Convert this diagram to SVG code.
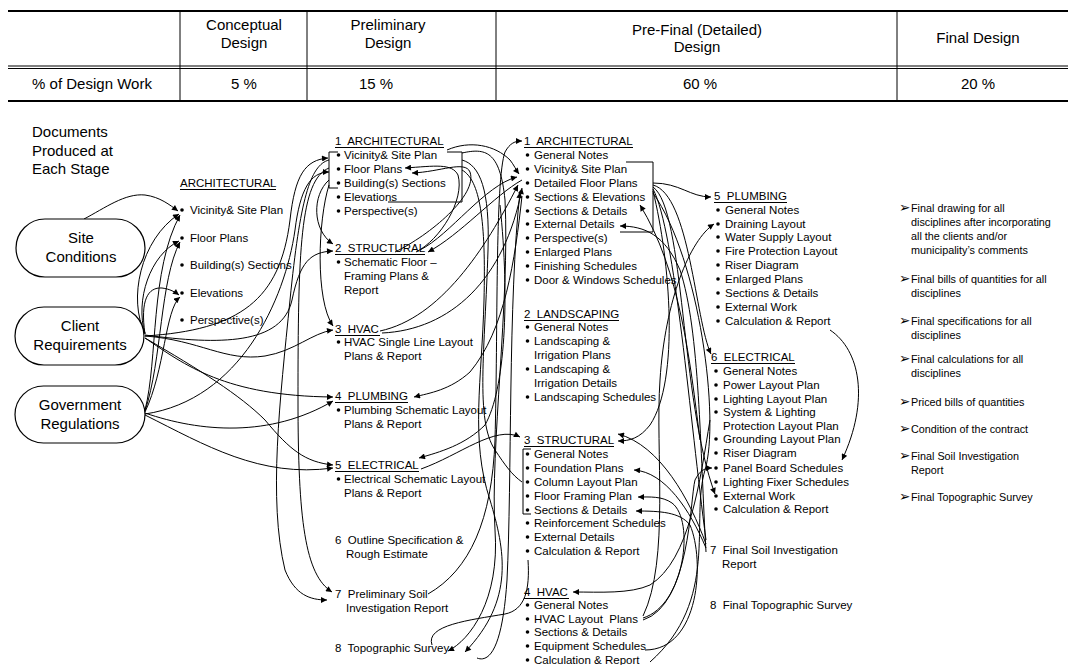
<svg xmlns="http://www.w3.org/2000/svg" width="1068" height="665" viewBox="0 0 1068 665">
<style>
text{font-family:"Liberation Sans",Arial,sans-serif;fill:#000;white-space:pre}
.tb{font-size:15px}
.m{text-anchor:middle}
.s{font-size:11.5px}
.f{font-size:10.8px}
.ar{font-family:"DejaVu Sans",sans-serif;font-size:13.5px}
.c path{fill:none;stroke:#000;stroke-width:1}
.ln{stroke:#000;stroke-width:1;fill:none}
.ov{fill:#fff;stroke:#000;stroke-width:1.2}
circle{fill:#000}
</style>
<defs>
<marker id="a" viewBox="0 0 10 10" refX="10" refY="5" markerWidth="7" markerHeight="6" orient="auto" markerUnits="userSpaceOnUse"><path d="M0,0 L10,5 L0,10 z" fill="#000"/></marker>
</defs>
<rect width="1068" height="665" fill="#fff"/>

<g id="table">
<line x1="8" y1="11" x2="1068" y2="11" stroke="#000" stroke-width="2"/>
<line x1="8" y1="66" x2="1068" y2="66" stroke="#000" stroke-width="1.2"/>
<line x1="8" y1="68.5" x2="1068" y2="68.5" stroke="#000" stroke-width="1.2"/>
<line x1="8" y1="101" x2="1068" y2="101" stroke="#000" stroke-width="2"/>
<line x1="180" y1="11" x2="180" y2="101" stroke="#000"/>
<line x1="307" y1="11" x2="307" y2="101" stroke="#000"/>
<line x1="496" y1="11" x2="496" y2="101" stroke="#000"/>
<line x1="897" y1="11" x2="897" y2="101" stroke="#000"/>
<text class="tb m" x="244" y="30">Conceptual</text>
<text class="tb m" x="244" y="48">Design</text>
<text class="tb m" x="388" y="30">Preliminary</text>
<text class="tb m" x="388" y="48">Design</text>
<text class="tb m" x="697" y="35">Pre-Final (Detailed)</text>
<text class="tb m" x="697" y="52">Design</text>
<text class="tb m" x="978" y="43">Final Design</text>
<text class="tb m" x="92" y="89">% of Design Work</text>
<text class="tb m" x="244" y="89">5 %</text>
<text class="tb m" x="376" y="89">15 %</text>
<text class="tb m" x="700" y="89">60 %</text>
<text class="tb m" x="978" y="89">20 %</text>
</g>

<g id="connectors" class="c">
<path marker-end="url(#a)" d="M84 219 C105 208 125 193 145 195 C160 197 170 205 178 211"/>
<path marker-end="url(#a)" d="M145 333 C128 300 140 240 179 214"/>
<path marker-end="url(#a)" d="M145 334 C135 300 150 255 179 241"/>
<path marker-end="url(#a)" d="M145 334 C140 300 148 287 162 288 C170 289 175 292 179 295"/>
<path marker-end="url(#a)" d="M145 410 C158 360 150 270 180 215"/>
<path marker-end="url(#a)" d="M145 411 C162 360 160 280 180 242"/>
<path marker-end="url(#a)" d="M145 412 C165 370 165 310 180 297"/>
<path marker-end="url(#a)" d="M145 335 C220 345 282 345 292 300 C300 262 310 252 333 251"/>
<path marker-end="url(#a)" d="M145 336 C200 340 225 362 265 356 C295 351 312 333 333 330"/>
<path marker-end="url(#a)" d="M145 338 C185 365 225 396 333 397"/>
<path marker-end="url(#a)" d="M145 338 C200 370 240 395 265 420 C290 450 305 462 333 465"/>
<path marker-end="url(#a)" d="M145 413 C200 432 270 438 333 401"/>
<path marker-end="url(#a)" d="M145 415 C205 445 260 478 333 468"/>
<path marker-end="url(#a)" d="M329 160 C310 165 300 200 290 300 C280 400 268 500 285 570 C295 595 310 600 327 600"/>
<path marker-end="url(#a)" d="M329 168 C300 180 298 250 298 400 C298 520 305 575 332 592"/>
<path marker-end="url(#a)" d="M145 336 C240 330 280 300 290 220 C295 175 305 160 328 158"/>
<path marker-end="url(#a)" d="M145 414 C240 400 285 300 295 230 C300 190 310 172 329 172"/>
<path marker-end="url(#a)" d="M329 180 C312 195 312 230 333 244"/>
<path marker-end="url(#a)" d="M329 185 C318 220 315 300 333 326"/>
<path marker-end="url(#a)" d="M416 252 C440 240 465 200 458 175 C452 163 435 166 405 168"/>
<path marker-end="url(#a)" d="M395 252 C430 235 478 195 470 172 C465 160 440 172 412 173"/>
<path marker-end="url(#a)" d="M462 153 C485 148 500 150 505 200 C510 300 490 450 495 530 C500 600 470 640 448 651"/>
<path marker-end="url(#a)" d="M477 658 C492 664 503 640 507 580 C512 480 508 300 520 192"/>
<path d="M432 645 C425 625 470 620 505 614 C525 610 530 590 528 560"/>
<path marker-end="url(#a)" d="M420 250 C450 235 485 185 517 177"/>
<path marker-end="url(#a)" d="M522 180 C495 195 460 235 428 252"/>
<path marker-end="url(#a)" d="M380 331 C440 318 485 250 518 185"/>
<path marker-end="url(#a)" d="M382 333 C450 330 505 280 522 188"/>
<path marker-end="url(#a)" d="M522 196 C515 260 505 330 470 372 C450 390 430 393 414 397"/>
<path marker-end="url(#a)" d="M500 205 C510 300 505 390 485 425 C465 445 440 452 419 458"/>
<path marker-end="url(#a)" d="M421 469 C460 455 495 425 520 437"/>
<path marker-end="url(#a)" d="M428 594 C470 570 492 520 495 440 C498 330 495 180 505 152 C510 143 515 141 522 141"/>
<path d="M462 160 C480 165 490 190 488 250 C485 350 475 420 495 450 C505 465 512 475 522 482"/>
<path marker-end="url(#a)" d="M447 150 C470 140 495 145 510 160 C514 165 516 170 519 174"/>
<path marker-end="url(#a)" d="M462 170 C480 180 486 220 484 300 C482 380 470 440 490 500 C505 550 515 600 465 652"/>
<path marker-end="url(#a)" d="M653 183 C680 183 690 197 711 197"/>
<path marker-end="url(#a)" d="M653 185 C690 195 695 320 711 354"/>
<path marker-end="url(#a)" d="M653 187 C685 210 680 400 715 494"/>
<path d="M653 189 C675 230 690 420 706 540"/>
<path marker-end="url(#a)" d="M653 191 C670 260 680 380 650 425 C640 438 630 441 618 441"/>
<path marker-end="url(#a)" d="M706 544 C690 500 660 445 618 434"/>
<path marker-end="url(#a)" d="M706 548 C690 510 665 472 634 470"/>
<path marker-end="url(#a)" d="M643 618 C685 605 695 520 672 503 C662 496 650 497 638 497"/>
<path marker-end="url(#a)" d="M645 650 C700 650 705 560 690 525 C680 512 660 511 636 511"/>
<path marker-end="url(#a)" d="M643 620 C690 605 690 500 695 480 C700 470 705 468 712 468"/>
<path marker-end="url(#a)" d="M710 420 C700 480 690 560 650 585 C630 594 600 592 573 592"/>
<path marker-end="url(#a)" d="M830 330 C860 350 870 400 842 460"/>
<path marker-end="url(#a)" d="M643 616 C670 560 655 450 660 380 C665 300 690 240 714 224"/>
<path marker-end="url(#a)" d="M706 552 C700 450 700 330 680 270 C665 235 645 226 620 226"/>
<path marker-end="url(#a)" d="M700 440 C690 360 680 270 640 205"/>
<path d="M653 193 C700 260 720 420 705 470 C690 520 720 600 650 662"/>
</g>

<g id="documents-label">
<text class="tb" x="32" y="137">Documents</text>
<text class="tb" x="32" y="156">Produced at</text>
<text class="tb" x="32" y="174">Each Stage</text>
</g>

<g id="site-conditions">
<rect class="ov" x="16" y="219" width="129" height="58" rx="29"/>
<text class="tb m" x="81" y="243">Site</text>
<text class="tb m" x="81" y="262">Conditions</text>
</g>
<g id="client-requirements">
<rect class="ov" x="15" y="307" width="129" height="58" rx="29"/>
<text class="tb m" x="80" y="331">Client</text>
<text class="tb m" x="80" y="350">Requirements</text>
</g>
<g id="government-regulations">
<rect class="ov" x="15" y="386" width="130" height="57" rx="28.5"/>
<text class="tb m" x="80" y="410">Government</text>
<text class="tb m" x="80" y="429">Regulations</text>
</g>

<g id="conceptual-architectural">
<text class="s" x="180" y="187">ARCHITECTURAL</text>
<line class="ln" x1="180" y1="189.5" x2="276" y2="189.5"/>
<circle cx="182" cy="210" r="1.8"/><text class="s" x="190" y="214">Vicinity&amp; Site Plan</text>
<circle cx="182" cy="238" r="1.8"/><text class="s" x="190" y="242">Floor Plans</text>
<circle cx="182" cy="265" r="1.8"/><text class="s" x="190" y="269">Building(s) Sections</text>
<circle cx="182" cy="293" r="1.8"/><text class="s" x="190" y="297">Elevations</text>
<circle cx="182" cy="320" r="1.8"/><text class="s" x="190" y="324">Perspective(s)</text>
</g>

<g id="prelim-architectural">
<text class="s" x="335" y="145">1  ARCHITECTURAL</text>
<line class="ln" x1="335" y1="147.5" x2="444" y2="147.5"/>
<path class="ln" d="M338 152 H329 V188 H338"/>
<path class="ln" d="M447 152 H462 V202 H388"/>
<circle cx="338.5" cy="155" r="1.8"/><text class="s" x="344" y="159">Vicinity&amp; Site Plan</text>
<circle cx="338.5" cy="169" r="1.8"/><text class="s" x="344" y="173">Floor Plans</text>
<circle cx="338.5" cy="183" r="1.8"/><text class="s" x="344" y="187">Building(s) Sections</text>
<circle cx="338.5" cy="197" r="1.8"/><text class="s" x="344" y="201">Elevations</text>
<circle cx="338.5" cy="211" r="1.8"/><text class="s" x="344" y="215">Perspective(s)</text>
</g>
<g id="prelim-structural">
<text class="s" x="335" y="252">2  STRUCTURAL</text>
<line class="ln" x1="335" y1="254.5" x2="425" y2="254.5"/>
<circle cx="338.5" cy="262" r="1.8"/><text class="s" x="344" y="266">Schematic Floor –</text>
<text class="s" x="344" y="280">Framing Plans &amp;</text>
<text class="s" x="344" y="294">Report</text>
</g>
<g id="prelim-hvac">
<text class="s" x="335" y="333">3  HVAC</text>
<line class="ln" x1="335" y1="335.5" x2="380" y2="335.5"/>
<circle cx="338.5" cy="342" r="1.8"/><text class="s" x="344" y="346">HVAC Single Line Layout</text>
<text class="s" x="344" y="360">Plans &amp; Report</text>
</g>
<g id="prelim-plumbing">
<text class="s" x="335" y="400">4  PLUMBING</text>
<line class="ln" x1="335" y1="402.5" x2="408" y2="402.5"/>
<circle cx="338.5" cy="410" r="1.8"/><text class="s" x="344" y="414">Plumbing Schematic Layout</text>
<text class="s" x="344" y="428">Plans &amp; Report</text>
</g>
<g id="prelim-electrical">
<text class="s" x="335" y="469">5  ELECTRICAL</text>
<line class="ln" x1="335" y1="471.5" x2="419" y2="471.5"/>
<circle cx="338.5" cy="479" r="1.8"/><text class="s" x="344" y="483">Electrical Schematic Layout</text>
<text class="s" x="344" y="497">Plans &amp; Report</text>
</g>
<g id="prelim-outline">
<text class="s" x="335" y="544">6  Outline Specification &amp;</text>
<text class="s" x="346" y="558">Rough Estimate</text>
</g>
<g id="prelim-soil">
<text class="s" x="335" y="598">7  Preliminary Soil</text>
<text class="s" x="346" y="612">Investigation Report</text>
</g>
<g id="prelim-topographic">
<text class="s" x="335" y="652">8  Topographic Survey</text>
</g>

<g id="prefinal-architectural">
<text class="s" x="524" y="145">1  ARCHITECTURAL</text>
<line class="ln" x1="524" y1="147.5" x2="633" y2="147.5"/>
<path class="ln" d="M626 162 H653 V232 H620"/>
<circle cx="527.5" cy="155" r="1.8"/><text class="s" x="534" y="159">General Notes</text>
<circle cx="527.5" cy="169" r="1.8"/><text class="s" x="534" y="173">Vicinity&amp; Site Plan</text>
<circle cx="527.5" cy="183" r="1.8"/><text class="s" x="534" y="187">Detailed Floor Plans</text>
<circle cx="527.5" cy="197" r="1.8"/><text class="s" x="534" y="201">Sections &amp; Elevations</text>
<circle cx="527.5" cy="211" r="1.8"/><text class="s" x="534" y="215">Sections &amp; Details</text>
<circle cx="527.5" cy="224" r="1.8"/><text class="s" x="534" y="228">External Details</text>
<circle cx="527.5" cy="238" r="1.8"/><text class="s" x="534" y="242">Perspective(s)</text>
<circle cx="527.5" cy="252" r="1.8"/><text class="s" x="534" y="256">Enlarged Plans</text>
<circle cx="527.5" cy="266" r="1.8"/><text class="s" x="534" y="270">Finishing Schedules</text>
<circle cx="527.5" cy="280" r="1.8"/><text class="s" x="534" y="284">Door &amp; Windows Schedules</text>
</g>
<g id="prefinal-landscaping">
<text class="s" x="524" y="318">2  LANDSCAPING</text>
<line class="ln" x1="524" y1="320.5" x2="619" y2="320.5"/>
<circle cx="527.5" cy="327" r="1.8"/><text class="s" x="534" y="331">General Notes</text>
<circle cx="527.5" cy="341" r="1.8"/><text class="s" x="534" y="345">Landscaping &amp;</text>
<text class="s" x="534" y="359">Irrigation Plans</text>
<circle cx="527.5" cy="369" r="1.8"/><text class="s" x="534" y="373">Landscaping &amp;</text>
<text class="s" x="534" y="387">Irrigation Details</text>
<circle cx="527.5" cy="397" r="1.8"/><text class="s" x="534" y="401">Landscaping Schedules</text>
</g>
<g id="prefinal-structural">
<text class="s" x="524" y="444">3  STRUCTURAL</text>
<line class="ln" x1="524" y1="446.5" x2="614" y2="446.5"/>
<path class="ln" d="M531 449 H523 V514 H531"/>
<circle cx="527.5" cy="454" r="1.8"/><text class="s" x="534" y="458">General Notes</text>
<circle cx="527.5" cy="468" r="1.8"/><text class="s" x="534" y="472">Foundation Plans</text>
<circle cx="527.5" cy="482" r="1.8"/><text class="s" x="534" y="486">Column Layout Plan</text>
<circle cx="527.5" cy="496" r="1.8"/><text class="s" x="534" y="500">Floor Framing Plan</text>
<circle cx="527.5" cy="510" r="1.8"/><text class="s" x="534" y="514">Sections &amp; Details</text>
<circle cx="527.5" cy="523" r="1.8"/><text class="s" x="534" y="527">Reinforcement Schedules</text>
<circle cx="527.5" cy="537" r="1.8"/><text class="s" x="534" y="541">External Details</text>
<circle cx="527.5" cy="551" r="1.8"/><text class="s" x="534" y="555">Calculation &amp; Report</text>
</g>
<g id="prefinal-hvac">
<text class="s" x="524" y="596">4  HVAC</text>
<line class="ln" x1="524" y1="598.5" x2="569" y2="598.5"/>
<circle cx="527.5" cy="605" r="1.8"/><text class="s" x="534" y="609">General Notes</text>
<circle cx="527.5" cy="619" r="1.8"/><text class="s" x="534" y="623">HVAC Layout  Plans</text>
<circle cx="527.5" cy="632" r="1.8"/><text class="s" x="534" y="636">Sections &amp; Details</text>
<circle cx="527.5" cy="646" r="1.8"/><text class="s" x="534" y="650">Equipment Schedules</text>
<circle cx="527.5" cy="660" r="1.8"/><text class="s" x="534" y="664">Calculation &amp; Report</text>
</g>

<g id="prefinal-plumbing">
<text class="s" x="714" y="200">5  PLUMBING</text>
<line class="ln" x1="714" y1="202.5" x2="787" y2="202.5"/>
<circle cx="718" cy="210" r="1.8"/><text class="s" x="725" y="214">General Notes</text>
<circle cx="718" cy="224" r="1.8"/><text class="s" x="725" y="228">Draining Layout</text>
<circle cx="718" cy="237" r="1.8"/><text class="s" x="725" y="241">Water Supply Layout</text>
<circle cx="718" cy="251" r="1.8"/><text class="s" x="725" y="255">Fire Protection Layout</text>
<circle cx="718" cy="265" r="1.8"/><text class="s" x="725" y="269">Riser Diagram</text>
<circle cx="718" cy="279" r="1.8"/><text class="s" x="725" y="283">Enlarged Plans</text>
<circle cx="718" cy="293" r="1.8"/><text class="s" x="725" y="297">Sections &amp; Details</text>
<circle cx="718" cy="307" r="1.8"/><text class="s" x="725" y="311">External Work</text>
<circle cx="718" cy="321" r="1.8"/><text class="s" x="725" y="325">Calculation &amp; Report</text>
</g>
<g id="prefinal-electrical">
<text class="s" x="711" y="361">6  ELECTRICAL</text>
<line class="ln" x1="711" y1="363.5" x2="795" y2="363.5"/>
<circle cx="716" cy="371" r="1.8"/><text class="s" x="723" y="375">General Notes</text>
<circle cx="716" cy="385" r="1.8"/><text class="s" x="723" y="389">Power Layout Plan</text>
<circle cx="716" cy="399" r="1.8"/><text class="s" x="723" y="403">Lighting Layout Plan</text>
<circle cx="716" cy="412" r="1.8"/><text class="s" x="723" y="416">System &amp; Lighting</text>
<text class="s" x="723" y="430">Protection Layout Plan</text>
<circle cx="716" cy="439" r="1.8"/><text class="s" x="723" y="443">Grounding Layout Plan</text>
<circle cx="716" cy="453" r="1.8"/><text class="s" x="723" y="457">Riser Diagram</text>
<circle cx="716" cy="468" r="1.8"/><text class="s" x="723" y="472">Panel Board Schedules</text>
<circle cx="716" cy="482" r="1.8"/><text class="s" x="723" y="486">Lighting Fixer Schedules</text>
<circle cx="716" cy="496" r="1.8"/><text class="s" x="723" y="500">External Work</text>
<circle cx="716" cy="509" r="1.8"/><text class="s" x="723" y="513">Calculation &amp; Report</text>
</g>
<g id="prefinal-soil">
<text class="s" x="710" y="554">7  Final Soil Investigation</text>
<text class="s" x="722" y="568">Report</text>
</g>
<g id="prefinal-topographic">
<text class="s" x="710" y="609">8  Final Topographic Survey</text>
</g>

<g id="final-design-list">
<text class="ar" x="899" y="212">➢</text><text class="f" x="911" y="212">Final drawing for all</text>
<text class="f" x="911" y="226">disciplines after incorporating</text>
<text class="f" x="911" y="240">all the clients and/or</text>
<text class="f" x="911" y="254">municipality’s comments</text>
<text class="ar" x="899" y="283">➢</text><text class="f" x="911" y="283">Final bills of quantities for all</text>
<text class="f" x="911" y="297">disciplines</text>
<text class="ar" x="899" y="325">➢</text><text class="f" x="911" y="325">Final specifications for all</text>
<text class="f" x="911" y="339">disciplines</text>
<text class="ar" x="899" y="363">➢</text><text class="f" x="911" y="363">Final calculations for all</text>
<text class="f" x="911" y="377">disciplines</text>
<text class="ar" x="899" y="406">➢</text><text class="f" x="911" y="406">Priced bills of quantities</text>
<text class="ar" x="899" y="433">➢</text><text class="f" x="911" y="433">Condition of the contract</text>
<text class="ar" x="899" y="460">➢</text><text class="f" x="911" y="460">Final Soil Investigation</text>
<text class="f" x="911" y="474">Report</text>
<text class="ar" x="899" y="501">➢</text><text class="f" x="911" y="501">Final Topographic Survey</text>
</g>
</svg>
